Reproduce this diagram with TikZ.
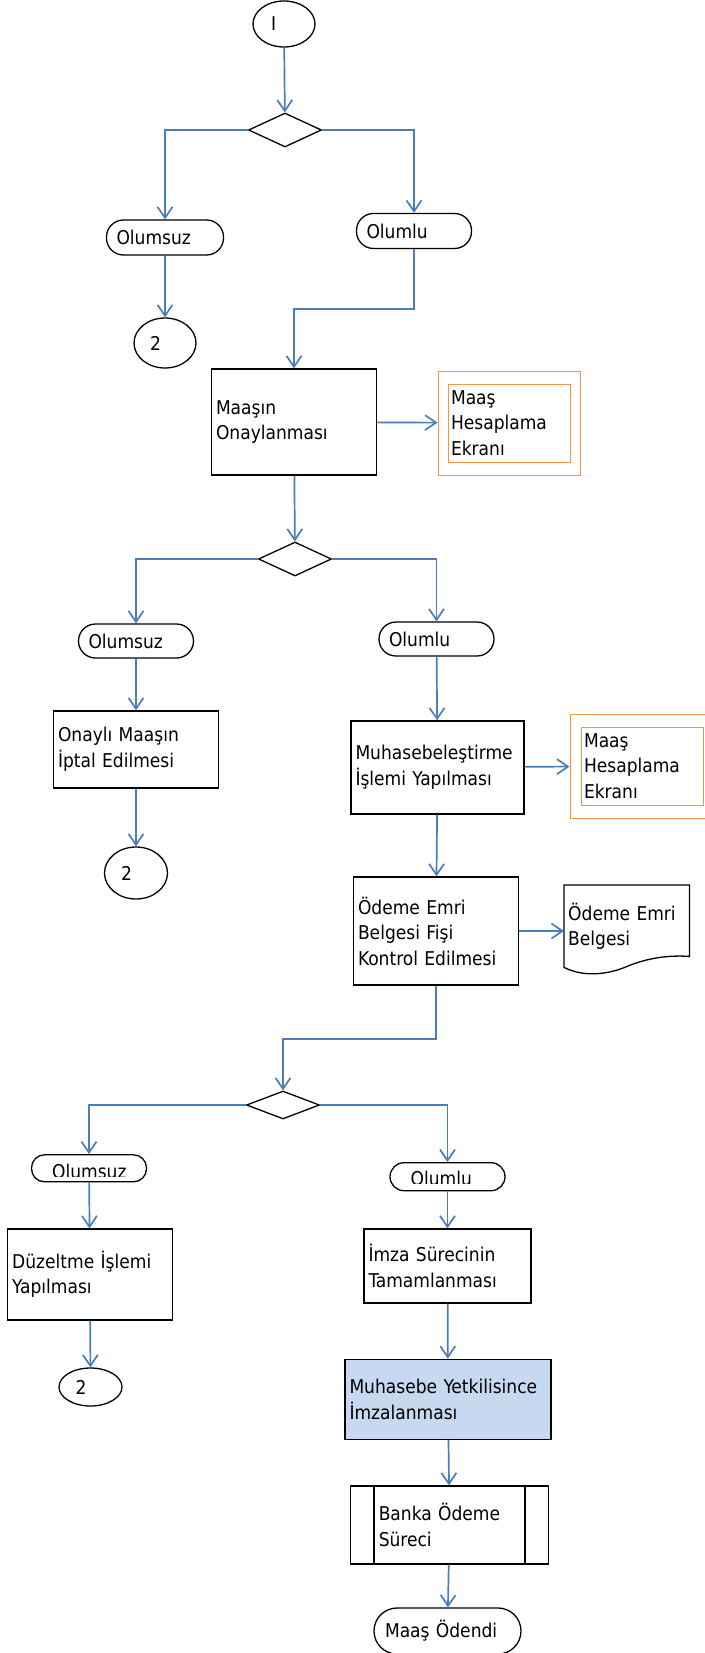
\documentclass[tikz,border=0pt]{standalone}
\usepackage{fontspec}
\setmainfont{DejaVu Sans Condensed}
\usepackage{xcolor}
\usetikzlibrary{arrows.meta, shapes.geometric, calc}

\definecolor{akis}{HTML}{4A7EBB}
\definecolor{turuncu}{HTML}{F79646}
\definecolor{mavidolgu}{HTML}{C6D9F1}

\tikzset{
    yazi/.style={font=\fontsize{19}{25.5}\selectfont},
    islem/.style={yazi, draw, line width=1.3pt, rectangle, inner xsep=4.5pt, inner ysep=0pt, align=left},
    durum/.style={yazi, draw, line width=1.3pt, rectangle, inner xsep=10pt, inner ysep=0pt, align=left},
    baglanti/.style={yazi, draw, line width=1.3pt, ellipse, inner sep=0pt, align=left, text width=30pt},
    karar/.style={draw, line width=1.3pt, diamond, inner sep=0pt, minimum width=73pt},
    ekran/.style={draw=turuncu, line width=1pt, rectangle, inner ysep=0pt},
}

\begin{document}
\begin{tikzpicture}[x=1pt, y=-1pt, >={Straight Barb[length=11pt,width=15pt]},
    ok/.style={draw=akis, line width=1.7pt, ->}]
    \useasboundingbox (0,0) rectangle (704,1653);

    % Başlangıç ve ilk karar
    \node[baglanti, text width=26pt, minimum width=62pt, minimum height=46pt] (bas) at (284,24) {I};
    \node[karar, minimum height=34pt] (karar1) at (285,130) {};
    \node[durum, rounded corners=17pt, minimum width=117pt, minimum height=35pt, text width=97pt] (olumsuz1) at (165,237.5) {Olumsuz};
    \node[durum, rounded corners=17pt, minimum width=115pt, minimum height=35pt, text width=95pt] (olumlu1) at (414,231) {Olumlu};
    \node[baglanti, minimum width=62pt, minimum height=50pt] (iki1) at (165,343) {2};
    \node[islem, minimum width=165pt, minimum height=106pt, text width=156pt] (onay) at (294,422) {Maaşın\\Onaylanması};
    \node[ekran, minimum width=142pt, minimum height=104pt] (ekran1) at (509,423) {};
    \node[ekran, yazi, inner xsep=3pt, align=left, minimum width=122pt, minimum height=78pt, text width=116pt] (ekran1i) at (509,423) {Maaş\\Hesaplama\\Ekranı};

    % İkinci karar
    \node[karar, minimum height=34pt] (karar2) at (295,559) {};
    \node[durum, rounded corners=17pt, minimum width=115pt, minimum height=34pt, text width=95pt] (olumsuz2) at (136,641) {Olumsuz};
    \node[durum, rounded corners=17pt, minimum width=115pt, minimum height=34pt, text width=95pt] (olumlu2) at (436.5,639) {Olumlu};
    \node[islem, minimum width=165pt, minimum height=77pt, text width=156pt] (iptal) at (136,749.5) {Onaylı Maaşın\\İptal Edilmesi};
    \node[baglanti, minimum width=63pt, minimum height=52pt] (iki2) at (136,873) {2};
    \node[islem, minimum width=173pt, minimum height=93pt, text width=164pt] (muhasebe) at (437.5,767.5) {Muhasebeleştirme\\İşlemi Yapılması};
    \node[ekran, minimum width=142pt, minimum height=104pt] (ekran2) at (641,766) {};
    \node[ekran, yazi, inner xsep=3pt, align=left, minimum width=122pt, minimum height=78pt, text width=116pt] (ekran2i) at (642,766) {Maaş\\Hesaplama\\Ekranı};
    \node[islem, minimum width=165pt, minimum height=108pt, text width=156pt] (odeme) at (436,931) {Ödeme Emri\\Belgesi Fişi\\Kontrol Edilmesi};
    \node[yazi, inner xsep=4pt, inner ysep=0pt, align=left, text width=117pt, minimum height=82pt, anchor=north west] (belge) at (564,885) {Ödeme Emri\\Belgesi};
    \draw[line width=1.3pt] (belge.north west) -- (belge.north east) -- ([yshift=11pt]belge.south east)
        .. controls (668,955) and (648,958) .. (628,966)
        .. controls (610,974) and (585,978) .. (belge.south west) -- cycle;

    % Üçüncü karar
    \node[karar, minimum height=28pt] (karar3) at (283,1105) {};
    \node[durum, rounded corners=13pt, minimum width=115pt, minimum height=27pt, text width=95pt,
        path picture={\clip ([yshift=5pt]path picture bounding box.south west) rectangle (path picture bounding box.north east);
            \node[yazi, anchor=base west, inner sep=0pt] (olumsuz3yazi) at ([xshift=10pt,yshift=3pt]path picture bounding box.south west) {Olumsuz};}]
        (olumsuz3) at (89,1168.3) {};
    \node[durum, rounded corners=14pt, minimum width=115pt, minimum height=28pt, text width=95pt,
        path picture={\clip ([yshift=7pt]path picture bounding box.south west) rectangle (path picture bounding box.north east);
            \node[yazi, anchor=base west, inner sep=0pt] (olumlu3yazi) at ([xshift=10pt,yshift=5pt]path picture bounding box.south west) {Olumlu};}]
        (olumlu3) at (447.5,1176.7) {};
    \node[islem, minimum width=164.5pt, minimum height=91pt, text width=155.5pt] (duzeltme) at (90,1274.5) {Düzeltme İşlemi\\Yapılması};
    \node[baglanti, minimum width=63pt, minimum height=38pt] (iki3) at (90.5,1387) {2};
    \node[islem, minimum width=167pt, minimum height=74pt, text width=158pt] (imza) at (447.5,1266) {İmza Sürecinin\\Tamamlanması};
    \node[islem, fill=mavidolgu, minimum width=206pt, minimum height=80pt, text width=197pt] (yetkili) at (448,1399.3) {Muhasebe Yetkilisince\\İmzalanması};
    \node[islem, inner xsep=28pt, minimum width=197.5pt, minimum height=78pt, text width=141.5pt] (banka) at (449.5,1525) {Banka Ödeme\\Süreci};
    \draw[line width=1.3pt] ([xshift=24pt]banka.north west) -- ([xshift=24pt]banka.south west);
    \draw[line width=1.3pt] ([xshift=-24pt]banka.north east) -- ([xshift=-24pt]banka.south east);
    \node[durum, rounded corners=23pt, inner xsep=11pt, minimum width=147pt, minimum height=46pt, text width=125pt] (odendi) at (447.5,1631) {Maaş Ödendi};

    % Bağlantılar
    \coordinate (kirilma1) at (294,309);
    \coordinate (kirilma2) at (283,1039);
    \draw[ok] (bas) -- (karar1);
    \draw[ok] (karar1.west) -| (olumsuz1.north);
    \draw[ok] (karar1.east) -| (olumlu1.north);
    \draw[ok] (olumsuz1) -- (iki1);
    \draw[ok] (olumlu1.south) |- (kirilma1) -- (onay.north);
    \draw[ok] (onay) -- (ekran1);
    \draw[ok] (onay) -- (karar2);
    \draw[ok] (karar2.west) -| (olumsuz2.north);
    \draw[ok] (karar2.east) -| (olumlu2.north);
    \draw[ok] (olumsuz2) -- (iptal);
    \draw[ok] (iptal) -- (iki2);
    \draw[ok] (olumlu2) -- (muhasebe);
    \draw[ok] (muhasebe) -- (ekran2);
    \draw[ok] (muhasebe) -- (odeme);
    \draw[ok] (odeme.east) -- (odeme.east -| belge.west);
    \draw[ok] (odeme.south) |- (kirilma2) -- (karar3.north);
    \draw[ok] (karar3.west) -| (olumsuz3.north);
    \draw[ok] (karar3.east) -| (olumlu3.north);
    \draw[ok] (olumsuz3) -- (duzeltme);
    \draw[ok] (duzeltme) -- (iki3);
    \draw[ok] (olumlu3) -- (imza);
    \draw[ok] (imza) -- (yetkili);
    \draw[ok] (yetkili) -- (banka);
    \draw[ok] (banka) -- (odendi);
\end{tikzpicture}
\end{document}
